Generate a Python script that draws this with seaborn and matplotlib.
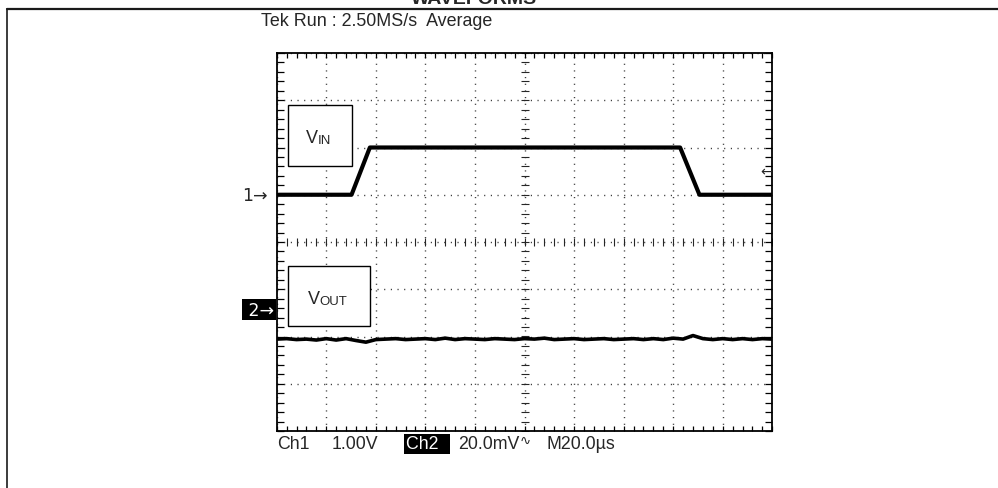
import matplotlib
matplotlib.use('Agg')
import matplotlib.pyplot as plt
from matplotlib.ticker import MultipleLocator
from matplotlib.lines import Line2D
from matplotlib.patches import Rectangle
import numpy as np
import pandas as pd
import seaborn as sns

sns.set_theme(style='white')
plt.rcParams['font.family'] = ['Liberation Sans', 'DejaVu Sans']
arrow_font = ['DejaVu Sans']   # Liberation's arrows are too short

# scope settings (10 x 8 divisions)
us_per_div = 20.0
ch1_v_per_div = 1.00
ch2_mv_per_div = 20.0
ch1_pos_div = 1.0      # ground reference of channel 1 (1->)
ch2_pos_div = -1.43    # ground reference of channel 2 (2->)
trig_level_v = 0.5     # trigger level on channel 1

# channel 1 (VIN) step, time in us, level in V
vin_t = [0.0, 30.2, 37.6, 162.8, 170.6, 200.0]
vin_v = [0.0, 0.0, 1.0, 1.0, 0.0, 0.0]

# channel 2 (VOUT), averaged trace in mV, one sample every 4 us
vout_t = list(range(0, 201, 4))
vout_mv = [-12.5, -12.3, -12.7, -12.5, -12.9, -12.3, -12.9, -12.3, -13.1, -13.8,
           -12.7, -12.5, -12.3, -12.7, -12.5, -12.3, -12.7, -12.1, -12.7, -12.3,
           -12.5, -12.7, -12.3, -12.5, -12.7, -12.3, -12.5, -12.1, -12.7, -12.5,
           -12.3, -12.7, -12.5, -12.3, -12.7, -12.5, -12.3, -12.7, -12.3, -12.7,
           -12.1, -12.5, -11.0, -12.3, -12.7, -12.3, -12.7, -12.3, -12.7, -12.3,
           -12.5]

W, H = 998, 489


def fx(x):
    return x / W


def fy(y):
    return 1 - y / H


df_in = pd.DataFrame({'t': vin_t, 'div': [ch1_pos_div + v / ch1_v_per_div for v in vin_v]})
df_out = pd.DataFrame({'t': vout_t, 'div': [ch2_pos_div + v / ch2_mv_per_div for v in vout_mv]})

fig = plt.figure(figsize=(W / 100, H / 100), dpi=100)
ax = fig.add_axes([fx(276.7), fy(432), (772.3 - 276.7) / W, (432 - 54) / H])

# graticule
grid_ls = (0, (0.8, 4.0))
ax.set_xlim(0, 10 * us_per_div)
ax.set_ylim(-4, 4)
ax.xaxis.set_major_locator(MultipleLocator(us_per_div))
ax.yaxis.set_major_locator(MultipleLocator(1))
ax.xaxis.set_minor_locator(MultipleLocator(us_per_div / 5))
ax.yaxis.set_minor_locator(MultipleLocator(0.2))
ax.grid(True, which='major', color='0.2', lw=1.0, linestyle=grid_ls)
ax.tick_params(which='both', direction='in', top=True, right=True, bottom=True, left=True,
               labelbottom=False, labelleft=False, color='black', width=0.9)
ax.tick_params(axis='x', which='both', length=3.6)
ax.tick_params(axis='y', which='both', length=4.8)
for sp in ax.spines.values():
    sp.set_color('black')
    sp.set_linewidth(1.3)

# center cross with small ticks
xc = 5 * us_per_div
ym = np.arange(-4, 4.01, 0.2)
xm = np.arange(0, 10 * us_per_div + 0.1, us_per_div / 5)
ax.plot(np.full(len(ym), xc), ym, ls='none', marker='_', ms=5.5, mew=0.8, color='0.15')
ax.plot(xm, np.zeros(len(xm)), ls='none', marker='|', ms=5.5, mew=0.8, color='0.15')

# traces
sns.lineplot(data=df_in, x='t', y='div', ax=ax, color='black', lw=3.0, estimator=None,
             sort=False, solid_joinstyle='round', zorder=5)
sns.lineplot(data=df_out, x='t', y='div', ax=ax, color='black', lw=2.6, estimator=None,
             sort=False, solid_joinstyle='round', zorder=5)
ax.set_xlabel('')
ax.set_ylabel('')

# channel markers and trigger level
ytr = ax.get_yaxis_transform()
ax.annotate('1\u2192', xy=(0, ch1_pos_div), xycoords=ytr, xytext=(-6.5, 0), textcoords='offset points',
            ha='right', va='center', fontsize=12.5, family=arrow_font, annotation_clip=False)
ax.annotate(' 2\u2192', xy=(0, ch2_pos_div), xycoords=ytr, xytext=(-1.6, 0), textcoords='offset points',
            ha='right', va='center', fontsize=12.5, family=arrow_font, color='white', annotation_clip=False,
            bbox=dict(boxstyle='square,pad=0.1', fc='black', ec='none'))
ax.annotate('\u2190', xy=(1, ch1_pos_div + trig_level_v / ch1_v_per_div), xycoords=ytr,
            xytext=(-0.5, 0), textcoords='offset points', ha='right', va='center', fontsize=10,
            family=arrow_font)

# VIN / VOUT label boxes
for (x0, y0, x1, y1), xt, yb, sub in [((288.3, 106, 351.7, 166.7), 305.5, 143, 'IN'),
                                      ((288.3, 266.7, 370, 327.3), 307.5, 304.5, 'OUT')]:
    fig.add_artist(Rectangle((fx(x0), fy(y1)), fx(x1) - fx(x0), fy(y0) - fy(y1),
                             transform=fig.transFigure, fc='white', ec='black', lw=1.0, zorder=6))
    tv = fig.text(fx(xt), fy(yb), 'V', ha='left', va='baseline', fontsize=13, zorder=7)
    fig.add_artist(matplotlib.text.Annotation(sub, xy=(1, 0), xycoords=tv, va='bottom', ha='left',
                                              fontsize=9.5, zorder=7))

# header (title is cut off by the top edge, as in the source capture)
fig.text(fx(474), fy(3.5), 'WAVEFORMS', ha='center', va='baseline', fontsize=14, fontweight='bold')
fig.text(fx(261), fy(22), 'Tek Run : 2.50MS/s  Average', ha='left', va='center', fontsize=12.9)
fig.add_artist(Line2D([fx(7), 1], [fy(10), fy(10)], color='0.1', lw=1.6))
fig.add_artist(Line2D([fx(7), fx(7)], [fy(10), 0], color='0.1', lw=1.2))

# footer: channel settings
yf = fy(445)
fig.text(fx(276.7), yf, 'Ch1', ha='left', va='center', fontsize=12.8)
fig.text(fx(331.7), yf, '1.00V', ha='left', va='center', fontsize=12.8)
fig.text(fx(405.5), yf, 'Ch2  ', ha='left', va='center', fontsize=12.8, color='white',
         bbox=dict(boxstyle='square,pad=0.1', fc='black', ec='none'))
t2 = fig.text(fx(458.3), yf, '20.0mV', ha='left', va='center', fontsize=12.8)
fig.add_artist(matplotlib.text.Annotation('\u223f', xy=(1, 0.68), xycoords=t2, va='center', ha='left',
                                          fontsize=9.5, family=arrow_font))
fig.text(fx(546.7), yf, 'M20.0\u00b5s', ha='left', va='center', fontsize=12.8)

fig.savefig('out.png', dpi=100, facecolor='white')
